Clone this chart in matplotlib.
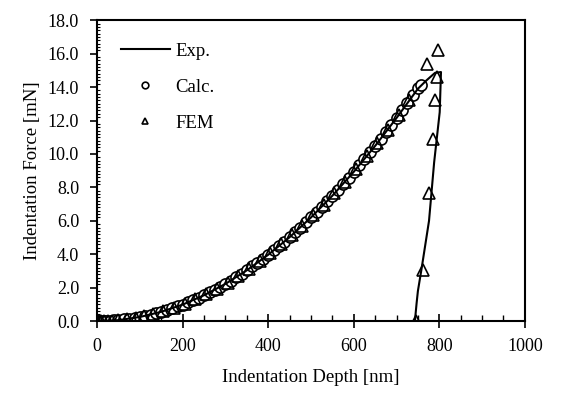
import matplotlib
matplotlib.use("Agg")
import matplotlib.pyplot as plt
from matplotlib.ticker import MultipleLocator, FormatStrFormatter

plt.rcParams['font.family'] = ['Liberation Serif', 'DejaVu Serif']

# Experimental curve (loading + unloading)
exp_depth = [0, 50, 100, 150, 200, 250, 300, 350, 400, 450, 500, 550, 600,
             650, 700, 750, 770, 790, 804, 801, 788, 776, 759, 750, 747, 743]
exp_force = [0.0, 0.06, 0.25, 0.56, 0.99, 1.55, 2.23, 3.04, 3.97, 5.02, 6.20, 7.50, 8.93,
             10.48, 12.15, 13.9, 14.4, 14.85, 14.9, 12.5, 9.5, 6.0, 3.2, 1.8, 1.08, 0.0]

# Calculated points
calc_depth = [0, 5, 10, 15, 20, 30, 40, 50, 62, 75, 88, 100, 113, 125, 138, 150, 163,
              175, 188, 200, 213, 225, 238, 250, 263, 275, 288, 300, 313, 325, 338,
              350, 363, 375, 388, 400, 413, 425, 438, 450, 463, 475, 488, 500, 513,
              525, 538, 550, 563, 575, 588, 600, 613, 625, 638, 650, 663, 675, 688,
              700, 713, 725, 738, 750, 758]
calc_force = [0.0, 0.0, 0.0, 0.01, 0.01, 0.02, 0.04, 0.06, 0.10, 0.14, 0.19, 0.25, 0.32,
              0.39, 0.47, 0.56, 0.66, 0.76, 0.88, 0.99, 1.13, 1.26, 1.40, 1.55, 1.72,
              1.88, 2.06, 2.23, 2.43, 2.62, 2.83, 3.04, 3.27, 3.49, 3.73, 3.97, 4.23,
              4.48, 4.76, 5.02, 5.32, 5.60, 5.91, 6.20, 6.53, 6.84, 7.18, 7.50, 7.86,
              8.20, 8.57, 8.93, 9.32, 9.69, 10.09, 10.48, 10.90, 11.30, 11.74, 12.15,
              12.61, 13.04, 13.51, 13.95, 14.1]

# FEM points (loading + unloading)
fem_depth = [0, 8, 16, 25, 35, 50, 70, 90, 110, 130, 155, 180, 205, 230, 255, 280, 305,
             330, 355, 380, 405, 430, 455, 480, 505, 530, 555, 580, 605, 630, 655, 680,
             705, 730, 771, 797, 794, 790, 785, 776, 762, 745]
fem_force = [0.0, 0.0, 0.01, 0.02, 0.03, 0.07, 0.12, 0.2, 0.3, 0.42, 0.6, 0.8, 1.05,
             1.32, 1.62, 1.95, 2.3, 2.7, 3.12, 3.58, 4.07, 4.6, 5.14, 5.72, 6.33, 6.97,
             7.65, 8.35, 9.1, 9.85, 10.65, 11.45, 12.3, 13.2, 15.4, 16.2, 14.6, 13.2,
             10.9, 7.66, 3.05, 0.0]

fig = plt.figure(figsize=(5.78, 3.96), dpi=100)
ax = fig.add_axes([0.168, 0.189, 0.740, 0.760])

ax.plot(exp_depth, exp_force, color='black', lw=1.5, label='Exp.', zorder=3)
ax.plot(calc_depth, calc_force, linestyle='none', marker='o', markersize=8,
        markerfacecolor='white', markeredgecolor='black', markeredgewidth=1.2,
        label='Calc.', zorder=2)
ax.plot(fem_depth, fem_force, linestyle='none', marker='^', markersize=8,
        markerfacecolor='none', markeredgecolor='black', markeredgewidth=1.2,
        label='FEM', zorder=4)

ax.set_xlim(0, 1000)
ax.set_ylim(0, 18)
ax.xaxis.set_major_locator(MultipleLocator(200))
ax.xaxis.set_minor_locator(MultipleLocator(50))
ax.yaxis.set_major_locator(MultipleLocator(2))
ax.yaxis.set_minor_locator(MultipleLocator(0.2))
ax.yaxis.set_major_formatter(FormatStrFormatter('%.1f'))

ax.tick_params(axis='x', which='major', direction='inout', length=10, width=1.2,
               labelsize=13, pad=7)
ax.tick_params(axis='x', which='minor', direction='in', length=4, width=1.0)
ax.tick_params(axis='y', which='major', direction='out', length=5, width=1.2,
               labelsize=13, pad=8)
ax.tick_params(axis='y', which='minor', direction='in', length=2.5, width=0.8)
for s in ax.spines.values():
    s.set_linewidth(1.5)

ax.set_xlabel('Indentation Depth [nm]', fontsize=13.5, labelpad=10)
ax.set_ylabel('Indentation Force [mN]', fontsize=13.5, labelpad=5)

leg = ax.legend(loc='upper left', bbox_to_anchor=(0.038, 0.95), frameon=False,
                fontsize=13.5, handlelength=2.6, labelspacing=1.0, markerscale=0.6,
                handletextpad=0.3, borderaxespad=0.0)

fig.savefig('out.png', dpi=100)
